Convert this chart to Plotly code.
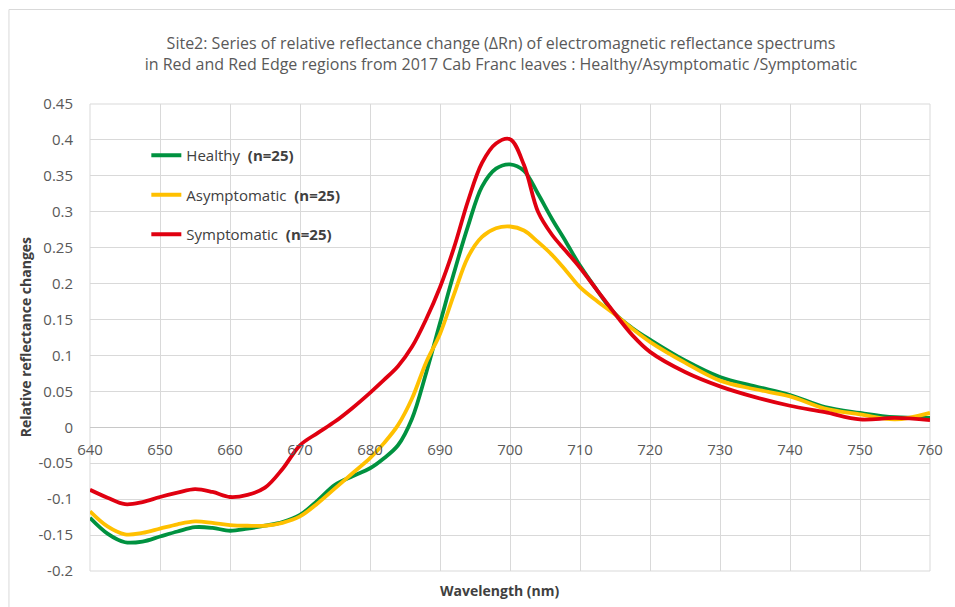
import plotly.graph_objects as go

wavelength = [640, 642.5, 645, 647.5, 650, 652.5, 655, 657.5, 660, 662.5, 665, 667.5,
              670, 672.5, 675, 677.5, 680, 682, 684, 686, 688, 690, 692, 694, 696, 698,
              700, 702, 704, 706, 708, 710, 712.5, 715, 717.5, 720, 725, 730, 735, 740,
              745, 750, 755, 760]

healthy = [-0.126, -0.148, -0.160, -0.159, -0.152, -0.145, -0.139, -0.140, -0.144, -0.141,
           -0.137, -0.132, -0.122, -0.102, -0.080, -0.068, -0.057, -0.043, -0.025, 0.012,
           0.075, 0.145, 0.215, 0.280, 0.335, 0.360, 0.366, 0.357, 0.325, 0.290, 0.258,
           0.225, 0.190, 0.158, 0.138, 0.122, 0.093, 0.070, 0.057, 0.045, 0.028, 0.020,
           0.014, 0.013]

asymptomatic = [-0.117, -0.138, -0.149, -0.147, -0.141, -0.135, -0.131, -0.133, -0.136, -0.137,
                -0.137, -0.133, -0.124, -0.106, -0.085, -0.064, -0.043, -0.022, 0.003, 0.040,
                0.090, 0.130, 0.185, 0.237, 0.265, 0.277, 0.2795, 0.274, 0.258, 0.240, 0.218,
                0.195, 0.175, 0.157, 0.137, 0.119, 0.090, 0.065, 0.053, 0.043, 0.026, 0.018,
                0.011, 0.020]

symptomatic = [-0.087, -0.098, -0.107, -0.104, -0.097, -0.091, -0.086, -0.090, -0.097, -0.094,
               -0.084, -0.058, -0.025, -0.008, 0.008, 0.027, 0.048, 0.066, 0.085, 0.112,
               0.150, 0.195, 0.250, 0.315, 0.368, 0.395, 0.401, 0.365, 0.300, 0.268, 0.245,
               0.222, 0.190, 0.158, 0.128, 0.105, 0.077, 0.057, 0.042, 0.030, 0.021, 0.011,
               0.013, 0.010]

series_names = ["Healthy  <b>(n=25)</b>", "Asymptomatic  <b>(n=25)</b>", "Symptomatic  <b>(n=25)</b>"]
series_colors = ["#009240", "#ffc000", "#e00010"]

x_ticks = [640, 650, 660, 670, 680, 690, 700, 710, 720, 730, 740, 750, 760]
y_ticks = [-0.2, -0.15, -0.1, -0.05, 0, 0.05, 0.1, 0.15, 0.2, 0.25, 0.3, 0.35, 0.4, 0.45]
y_tick_labels = ["-0.2", "-0.15", "-0.1", "-0.05", "0", "0.05", "0.1", "0.15", "0.2",
                 "0.25", "0.3", "0.35", "0.4", "0.45"]

x_range = [640, 760]
y_range = [-0.2, 0.45]

FONT = "Open Sans, Noto Sans, sans-serif"

fig = go.Figure()
for i, (name, vals, col) in enumerate(zip(series_names, [healthy, asymptomatic, symptomatic], series_colors)):
    fig.add_trace(go.Scatter(
        x=wavelength, y=vals, mode="lines", name=name,
        line=dict(color=col, width=3.8, shape="spline", smoothing=1.0),
        legendgroup=f"g{i}",
    ))

W, H = 955, 607
ml, mr, mt, mb = 90, 15, 104, 36
pw, ph = W - ml - mr, H - mt - mb

fig.update_layout(
    width=W, height=H,
    margin=dict(l=ml, r=mr, t=mt, b=mb),
    paper_bgcolor="white", plot_bgcolor="white",
    font=dict(family=FONT, color="#595959"),
    title=dict(
        text="Site2: Series of relative reflectance change (ΔRn) of electromagnetic reflectance spectrums<br>"
             "in Red and Red Edge regions from 2017 Cab Franc leaves : Healthy/Asymptomatic /Symptomatic",
        x=501 / W, xanchor="center", xref="container",
        y=1 - 49 / H, yanchor="middle", yref="container",
        font=dict(family=FONT, size=16, color="#595959"),
    ),
    showlegend=True,
    legend=dict(
        x=(147 - ml) / pw, xanchor="left",
        y=1 - (139 - mt) / ph, yanchor="top",
        bgcolor="rgba(0,0,0,0)",
        font=dict(family=FONT, size=15, color="#404040"),
        tracegroupgap=17,
        traceorder="grouped",
    ),
    xaxis=dict(
        range=x_range, tickvals=x_ticks, ticktext=[str(v) for v in x_ticks],
        showgrid=True, gridcolor="#d9d9d9", gridwidth=1,
        zeroline=False, showline=False,
        anchor="free", position=(0 - y_range[0]) / (y_range[1] - y_range[0]),
        ticks="outside", ticklen=9, tickcolor="rgba(0,0,0,0)",
        tickfont=dict(family=FONT, size=15, color="#595959"),
    ),
    yaxis=dict(
        range=y_range, tickvals=y_ticks, ticktext=y_tick_labels,
        showgrid=True, gridcolor="#d9d9d9", gridwidth=1,
        zeroline=True, zerolinecolor="#c8c8c8", zerolinewidth=1.3,
        showline=False,
        ticks="outside", ticklen=13, tickcolor="rgba(0,0,0,0)",
        tickfont=dict(family=FONT, size=15, color="#595959"),
    ),
    annotations=[
        dict(text="<b>Wavelength (nm)</b>", xref="paper", yref="paper",
             x=(504 - ml) / pw, y=-(590 - (H - mb)) / ph, xanchor="center", yanchor="middle",
             showarrow=False, font=dict(family=FONT, size=14, color="#404040")),
        dict(text="<b>Relative reflectance changes</b>", xref="paper", yref="paper",
             x=(25 - ml) / pw, y=0.5, xanchor="center", yanchor="middle", textangle=-90,
             showarrow=False, font=dict(family=FONT, size=14, color="#404040")),
    ],
    shapes=[
        dict(type="rect", xref="x domain", yref="y domain", x0=0, x1=1, y0=0, y1=1,
             line=dict(color="#d9d9d9", width=1), layer="below"),
        dict(type="rect", xref="paper", yref="paper",
             x0=(8 - ml) / pw, x1=(W + 20 - ml) / pw,
             y0=-(H + 20 - (H - mb)) / ph, y1=1 + (mt - 9.5) / ph,
             line=dict(color="#d9d9d9", width=1), layer="below"),
    ],
)

fig.write_html("out.html")
